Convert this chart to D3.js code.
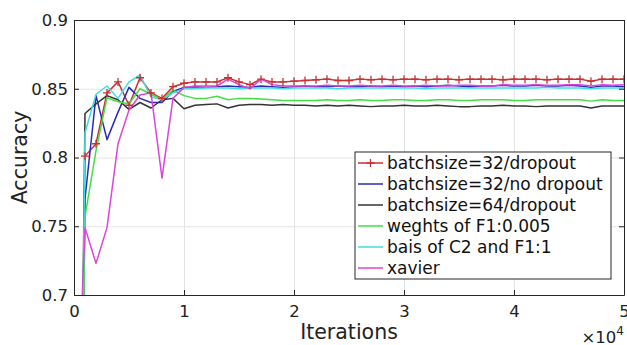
<!DOCTYPE html>
<html>
<head>
<meta charset="utf-8">
<script src="https://cdn.jsdelivr.net/npm/d3@7"></script>
<style>
body { margin: 0; background: #fff; }
svg { font-family: "DejaVu Sans", sans-serif; }
.axisLabel { fill: #222; }
</style>
</head>
<body>
<div id="chart"></div>
<script>
// iteration axis (one test point every 1000 iterations)
var iterations = d3.range(0, 50001, 1000);

var seriesNames = ["batchsize=32/dropout", "batchsize=32/no dropout", "batchsize=64/dropout",
			"weghts of F1:0.005", "bais of C2 and F1:1", "xavier"];
var seriesColors = ["#c83232", "#2a2ab8", "#333333", "#44dd44", "#44dddd", "#dd44dd"];

var bs32Dropout = [0.10, 0.801, 0.810, 0.847, 0.855, 0.838, 0.858, 0.847, 0.843, 0.8515, 0.854,
	0.855, 0.855, 0.855, 0.858, 0.855, 0.853, 0.857, 0.855, 0.855, 0.8555,
	0.856, 0.8565, 0.857, 0.856, 0.856, 0.857, 0.8565, 0.857, 0.8565, 0.857,
	0.857, 0.8565, 0.857, 0.857, 0.8565, 0.857, 0.857, 0.857, 0.8565, 0.857,
	0.857, 0.857, 0.8565, 0.857, 0.857, 0.857, 0.8555, 0.857, 0.857, 0.857];
var bs32NoDropout = [0.10, 0.77, 0.845, 0.813, 0.833, 0.851, 0.843, 0.840, 0.840, 0.848, 0.851,
	0.8515, 0.851, 0.8515, 0.852, 0.8515, 0.851, 0.852, 0.8515, 0.851, 0.8515,
	0.852, 0.8515, 0.8515, 0.852, 0.8515, 0.8515, 0.852, 0.8515, 0.852, 0.8515,
	0.852, 0.8515, 0.852, 0.8525, 0.852, 0.8515, 0.852, 0.852, 0.8525, 0.852,
	0.852, 0.8525, 0.852, 0.852, 0.8525, 0.852, 0.851, 0.852, 0.852, 0.8515];
var bs64Dropout = [0.10, 0.832, 0.839, 0.845, 0.842, 0.835, 0.840, 0.836, 0.842, 0.843, 0.8355,
	0.838, 0.8385, 0.839, 0.836, 0.838, 0.8385, 0.8385, 0.838, 0.8385, 0.838,
	0.838, 0.8375, 0.838, 0.8375, 0.838, 0.8375, 0.837, 0.8375, 0.8375, 0.838,
	0.8375, 0.8375, 0.838, 0.8375, 0.837, 0.837, 0.8375, 0.8375, 0.838, 0.8375,
	0.8375, 0.837, 0.8375, 0.8375, 0.8375, 0.8375, 0.836, 0.8375, 0.8375, 0.8375];
var weightsF1 = [0.10, 0.757, 0.805, 0.8435, 0.8405, 0.839, 0.850, 0.846, 0.842, 0.849, 0.845,
	0.843, 0.843, 0.8445, 0.842, 0.843, 0.843, 0.8425, 0.842, 0.8415, 0.8415,
	0.8415, 0.8415, 0.842, 0.8415, 0.8415, 0.842, 0.8415, 0.8415, 0.842, 0.842,
	0.8415, 0.8415, 0.842, 0.842, 0.8415, 0.8415, 0.842, 0.842, 0.842, 0.8415,
	0.8415, 0.842, 0.842, 0.842, 0.842, 0.842, 0.841, 0.842, 0.8415, 0.8415];
var biasC2F1 = [0.10, 0.818, 0.846, 0.852, 0.843, 0.855, 0.860, 0.844, 0.842, 0.847, 0.850,
	0.850, 0.8505, 0.8505, 0.8505, 0.850, 0.8505, 0.8505, 0.8505, 0.850, 0.8505,
	0.8505, 0.8505, 0.8505, 0.850, 0.8505, 0.8505, 0.8505, 0.8505, 0.8505, 0.8505,
	0.8505, 0.850, 0.8505, 0.8505, 0.8505, 0.8505, 0.8505, 0.8505, 0.8505, 0.8505,
	0.8505, 0.8505, 0.851, 0.8505, 0.8505, 0.8505, 0.850, 0.8505, 0.8505, 0.8505];
var xavier = [0.55, 0.749, 0.723, 0.749, 0.810, 0.8345, 0.8455, 0.847, 0.785, 0.843, 0.851,
	0.852, 0.852, 0.852, 0.857, 0.853, 0.850, 0.857, 0.853, 0.852, 0.852,
	0.852, 0.852, 0.8525, 0.852, 0.852, 0.8525, 0.852, 0.852, 0.8525, 0.852,
	0.852, 0.8525, 0.852, 0.852, 0.8525, 0.8525, 0.852, 0.852, 0.853, 0.8525,
	0.8525, 0.853, 0.8525, 0.8525, 0.853, 0.853, 0.852, 0.853, 0.8525, 0.853];

var allSeries = [bs32Dropout, bs32NoDropout, bs64Dropout, weightsF1, biasC2F1, xavier];

var xTicks = [0, 10000, 20000, 30000, 40000, 50000];
var xTickLabels = ["0", "1", "2", "3", "4", "5"];
var yTicks = [0.7, 0.75, 0.8, 0.85, 0.9];
var yTickLabels = ["0.7", "0.75", "0.8", "0.85", "0.9"];

function generateChart(){
	var dimensions = {top: 20, right: 3, bottom: 50, left: 74},
	totalWidth = 627, totalHeight = 345,
	width = totalWidth - dimensions.left - dimensions.right,
	height = totalHeight - dimensions.top - dimensions.bottom;

	var svg = d3.select("#chart").append("svg")
	    .attr("width", totalWidth)
	    .attr("height", totalHeight)
	  	.append("g")
	    .attr("transform", "translate(" + dimensions.left + "," + dimensions.top + ")");

	var x = d3.scaleLinear().domain([0, 50000]).range([0, width]);
	var y = d3.scaleLinear().domain([0.7, 0.9]).range([height, 0]);

	// grid
	svg.append("g")
	    .attr("transform", "translate(0," + height + ")")
	    .call(d3.axisBottom(x).tickValues(xTicks).tickSize(-height).tickFormat(""))
	    .call(function(g){
	    	g.select(".domain").remove();
	    	g.selectAll("line").attr("stroke", "#e3e3e3").attr("stroke-width", 1);
	    });
	svg.append("g")
	    .call(d3.axisLeft(y).tickValues(yTicks).tickSize(-width).tickFormat(""))
	    .call(function(g){
	    	g.select(".domain").remove();
	    	g.selectAll("line").attr("stroke", "#e3e3e3").attr("stroke-width", 1);
	    });

	svg.append("clipPath").attr("id", "plotClip")
	  .append("rect")
	    .attr("width", width)
	    .attr("height", height);

	var line = d3.line()
	    .x(function(d, i){ return x(iterations[i]); })
	    .y(function(d){ return y(d); });

	var plot = svg.append("g").attr("clip-path", "url(#plotClip)");
	for(var s = 0; s < allSeries.length; s++){
		plot.append("path")
		    .datum(allSeries[s])
		    .attr("fill", "none")
		    .attr("stroke", seriesColors[s])
		    .attr("stroke-width", 1.5)
		    .attr("stroke-linejoin", "round")
		    .attr("d", line);
	}

	// '+' markers on the first series
	plot.selectAll(".plusMarker")
	    .data(bs32Dropout)
	  	.enter().append("path")
	    .attr("class", "plusMarker")
	    .attr("transform", function(d, i){ return "translate(" + x(iterations[i]) + "," + y(d) + ")"; })
	    .attr("d", "M-4,0H4M0,-4V4")
	    .attr("stroke", seriesColors[0])
	    .attr("stroke-width", 1.3);

	// axes with inward ticks on all four sides
	var axisColor = "#262626";
	function styleAxis(g){
		g.select(".domain").attr("stroke", axisColor);
		g.selectAll(".tick line").attr("stroke", axisColor);
		g.selectAll("text").attr("fill", "#222").style("font-size", "16.5px")
		    .style("font-family", "'DejaVu Sans', sans-serif");
	}
	svg.append("g")
	    .attr("transform", "translate(0," + height + ")")
	    .call(d3.axisBottom(x).tickValues(xTicks).tickSizeInner(-5).tickSizeOuter(0).tickPadding(10)
	    	.tickFormat(function(d, i){ return xTickLabels[i]; }))
	    .call(styleAxis);
	svg.append("g")
	    .call(d3.axisTop(x).tickValues(xTicks).tickSizeInner(-5).tickSizeOuter(0).tickFormat(""))
	    .call(styleAxis);
	svg.append("g")
	    .call(d3.axisLeft(y).tickValues(yTicks).tickSizeInner(-5).tickSizeOuter(0).tickPadding(6)
	    	.tickFormat(function(d, i){ return yTickLabels[i]; }))
	    .call(styleAxis);
	svg.append("g")
	    .attr("transform", "translate(" + width + ",0)")
	    .call(d3.axisRight(y).tickValues(yTicks).tickSizeInner(-5).tickSizeOuter(0).tickFormat(""))
	    .call(styleAxis);

	// axis titles
	svg.append("text")
	    .attr("class", "axisLabel")
	    .attr("x", width / 2)
	    .attr("y", height + 44)
	    .attr("text-anchor", "middle")
	    .style("font-size", "20.5px")
		.text("Iterations");

	svg.append("text")
	    .attr("class", "axisLabel")
	    .attr("transform", "translate(" + (27 - dimensions.left) + "," + (height / 2) + ") rotate(-90)")
	    .attr("text-anchor", "middle")
	    .style("font-size", "20.5px")
		.text("Accuracy");

	var exp = svg.append("text")
	    .attr("class", "axisLabel")
	    .attr("x", width)
	    .attr("y", height + 48)
	    .attr("text-anchor", "end")
	    .style("font-size", "16.5px");
	exp.append("tspan").text("\u00d710");
	exp.append("tspan").attr("dy", -8).style("font-size", "12px").text("4");

	// legend
	var legendX = 355 - dimensions.left, legendY = 152 - dimensions.top,
	legendW = 256, rowH = 21;
	var legend = svg.append("g")
	    .attr("transform", "translate(" + legendX + "," + legendY + ")");
	legend.append("rect")
	    .attr("width", legendW)
	    .attr("height", rowH * seriesNames.length + 1)
	    .attr("fill", "#fff")
	    .attr("stroke", axisColor)
	    .attr("stroke-width", 1);
	var item = legend.selectAll(".legendItem")
	    .data(seriesNames)
	  	.enter().append("g")
	    .attr("class", "legendItem")
	    .attr("transform", function(d, i){ return "translate(0," + (11 + i * rowH) + ")"; });
	item.append("line")
	    .attr("x1", 3).attr("x2", 28)
	    .attr("stroke", function(d, i){ return seriesColors[i]; })
	    .attr("stroke-width", 1.5);
	item.filter(function(d, i){ return i == 0; })
	  .append("path")
	    .attr("d", "M11.5,0H19.5M15.5,-4V4")
	    .attr("stroke", seriesColors[0])
	    .attr("stroke-width", 1.3);
	item.append("text")
	    .attr("x", 32)
	    .attr("dy", "0.36em")
	    .attr("fill", "#111")
	    .style("font-size", "17px")
		.text(function(d){ return d; });
}

generateChart();
</script>
</body>
</html>
